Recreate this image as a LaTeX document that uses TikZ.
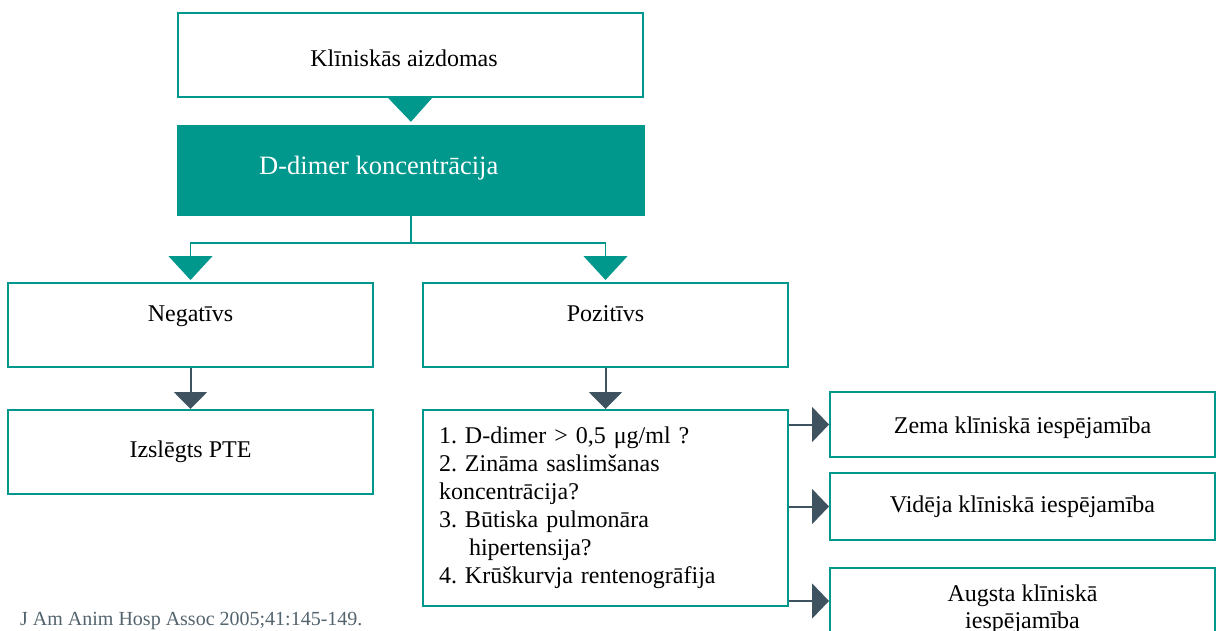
\documentclass[tikz,border=0pt]{standalone}
\usepackage{fontspec}
\setmainfont{Liberation Serif}
\usetikzlibrary{arrows.meta,positioning}
\definecolor{tealc}{RGB}{0,152,141}
\definecolor{slatec}{RGB}{62,82,96}
\definecolor{notec}{RGB}{84,100,110}
\frenchspacing
\begin{document}
\begin{tikzpicture}[x=1pt,y=-1pt,
  box/.style={draw=tealc, line width=2pt, minimum width=365pt, minimum height=84pt, inner sep=0pt, font=\fontsize{24}{28}\selectfont},
  lbl/.style={inner sep=0pt, font=\fontsize{24}{27}\selectfont},
  tarrow/.style={draw=tealc, line width=1.5pt, -{Triangle[width=44pt,length=24pt]}},
  darrow/.style={draw=slatec, line width=2pt, -{Triangle[width=33pt,length=17pt]}},
  harrow/.style={draw=slatec, line width=2pt, -{Triangle[width=35pt,length=17pt]}}
]
\fill[white] (0,0) rectangle (1217,630);
\clip (0,0) rectangle (1217,630);

\node[box, minimum width=465pt] (top) at (410.5,55) {};
\node[lbl, anchor=base] (toptxt) at (404,66) {Klīniskās aizdomas};
\node[fill=tealc, minimum width=468pt, minimum height=91pt, inner sep=0pt] (dimer) at (411,170.5) {};
\node[anchor=base west, inner sep=0pt, text=white, font=\fontsize{26.5}{30}\selectfont] (dimertxt) at (259,174) {D-dimer koncentrācija};

\node[box] (neg) at (190.5,325) {};
\node[lbl, anchor=base] (negtxt) at ([yshift=-39pt]neg.north) {Negatīvs};
\node[box] (poz) at (605.5,325) {};
\node[lbl, anchor=base] (poztxt) at ([yshift=-39pt]poz.north) {Pozitīvs};

\node[box] (izs) at (190.5,452) {Izslēgts PTE};

\node[box, minimum height=196pt, text width=333pt, align=left, inner xsep=16pt,
      font=\fontsize{24}{28}\selectfont] (list) at (605.5,508)
  {1. D-dimer > 0,5 μg/ml ?\\
   2. Zināma saslimšanas\\
   koncentrācija?\\
   3. Būtiska pulmonāra\\
   \hspace*{30pt}hipertensija?\\
   4. Krūškurvja rentenogrāfija};

\node[box, minimum width=385pt, minimum height=65pt, text height=20pt, text depth=3pt] (zema) at (1022.5,424.5) {Zema klīniskā iespējamība};
\node[box, minimum width=385pt, minimum height=67pt] (videja) at (1022.5,506.5) {Vidēja klīniskā iespējamība};
\node[box, minimum width=385pt, minimum height=100pt] (augsta) at (1022.5,618) {};
\node[lbl, anchor=north, align=center] (augtxt) at ([yshift=-18pt]augsta.north) {Augsta klīniskā\\iespējamība};
\coordinate (ain) at ([yshift=-34pt]augsta.north west);

% teal connectors
\draw[tarrow, shorten >=3pt] (top.south) -- (dimer.north);
\draw[tarrow, shorten >=2pt] (dimer.south) -- ++(0,27) -| (neg.north);
\draw[tarrow, shorten >=2pt] (dimer.south) -- ++(0,27) -| (poz.north);

% dark connectors
\draw[darrow] (neg.south) -- (izs.north);
\draw[darrow] (poz.south) -- (list.north);
\draw[harrow] (list.east |- zema.west) -- (zema.west);
\draw[harrow] (list.east |- videja.west) -- (videja.west);
\draw[harrow] (list.east |- ain) -- (ain);

\node[anchor=base west, inner sep=0pt, text=notec, font=\fontsize{20}{24}\selectfont] (note) at (20,625) {J Am Anim Hosp Assoc 2005;41:145-149.};
\end{tikzpicture}
\end{document}
